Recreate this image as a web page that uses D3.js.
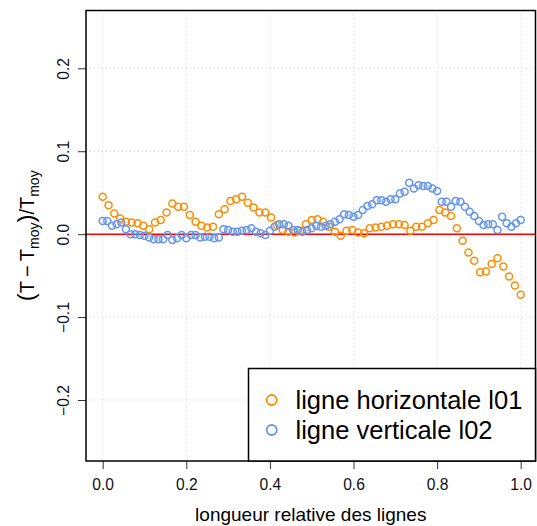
<!DOCTYPE html>
<html>
<head>
<meta charset="utf-8">
<script src="https://cdn.jsdelivr.net/npm/d3@7"></script>
<style>
  html, body { margin: 0; padding: 0; background: #fff; }
  svg { display: block; font-family: "Liberation Sans", Arial, Helvetica, sans-serif; }
</style>
</head>
<body>
<svg id="chart" width="537" height="526"></svg>
<script>
// ---- data ----
const xTicks = [0.0, 0.2, 0.4, 0.6, 0.8, 1.0];
const yTicks = [-0.2, -0.1, 0.0, 0.1, 0.2];

// ligne horizontale l01 : 73 points, x = i/72
const horizVals = [
  0.045, 0.035, 0.025, 0.019, 0.015, 0.014, 0.013, 0.010, 0.006, 0.014,
  0.017, 0.026, 0.037, 0.033, 0.033, 0.023, 0.015, 0.010, 0.008, 0.009,
  0.024, 0.030, 0.040, 0.042, 0.045, 0.038, 0.032, 0.026, 0.026, 0.020,
  0.011, 0.005, 0.003, 0.002, 0.004, 0.012, 0.017, 0.018, 0.015, 0.009,
  0.003, -0.002, 0.004, 0.005, 0.002, 0.001, 0.007, 0.008, 0.009, 0.010,
  0.012, 0.012, 0.011, 0.004, 0.009, 0.009, 0.013, 0.017, 0.029, 0.026,
  0.022, 0.007, -0.008, -0.022, -0.032, -0.046, -0.045, -0.036, -0.029, -0.039,
  -0.051, -0.062, -0.073
];

// ligne verticale l02 : 91 points, x = i/90
const vertVals = [
  0.016, 0.016, 0.010, 0.012, 0.014, 0.006, 0.000, 0.000, -0.001, -0.002,
  -0.004, -0.006, -0.006, -0.006, -0.001, -0.007, -0.005, -0.001, -0.005, -0.001,
  -0.001, -0.004, -0.003, -0.003, -0.005, -0.004, 0.006, 0.005, 0.003, 0.003,
  0.004, 0.005, 0.007, 0.003, 0.001, -0.001, 0.004, 0.009, 0.012, 0.012,
  0.010, 0.005, 0.005, 0.003, 0.005, 0.007, 0.010, 0.009, 0.010, 0.012,
  0.015, 0.018, 0.024, 0.023, 0.021, 0.023, 0.029, 0.034, 0.036, 0.041,
  0.041, 0.039, 0.042, 0.042, 0.049, 0.051, 0.062, 0.055, 0.059, 0.058,
  0.058, 0.055, 0.052, 0.039, 0.039, 0.033, 0.040, 0.039, 0.033, 0.027,
  0.022, 0.016, 0.011, 0.012, 0.012, 0.005, 0.021, 0.013, 0.009, 0.013,
  0.017
];

const seriesNames = ["ligne horizontale l01", "ligne verticale l02"];
const seriesColors = ["#FF8C00", "#6495ED"];

const horizPts = horizVals.map((v, i) => ({ x: i / (horizVals.length - 1), y: v }));
const vertPts  = vertVals.map((v, i) => ({ x: i / (vertVals.length - 1), y: v }));

// ---- layout ----
const box = { left: 86, right: 535.5, top: 10.5, bottom: 461 };
const x = d3.scaleLinear().domain([0, 1]).range([102.7, 520.7]);
const y = d3.scaleLinear().domain([-0.2, 0.2]).range([400, 68.3]);

const svg = d3.select("#chart");

// grid (dotted light gray)
const grid = svg.append("g");
grid.selectAll("line.gx").data(xTicks).join("line")
  .attr("x1", d => x(d)).attr("x2", d => x(d))
  .attr("y1", box.top).attr("y2", box.bottom)
  .attr("stroke", "#d3d3d3").attr("stroke-width", 1).attr("stroke-dasharray", "1,3");
grid.selectAll("line.gy").data(yTicks).join("line")
  .attr("y1", d => y(d)).attr("y2", d => y(d))
  .attr("x1", box.left).attr("x2", box.right)
  .attr("stroke", "#d3d3d3").attr("stroke-width", 1).attr("stroke-dasharray", "1,3");

// zero line
svg.append("line")
  .attr("x1", box.left).attr("x2", box.right)
  .attr("y1", y(0)).attr("y2", y(0))
  .attr("stroke", "#FF0000").attr("stroke-width", 1.5);

// points
function drawPts(pts, color) {
  svg.append("g").selectAll("circle").data(pts).join("circle")
    .attr("cx", d => x(d.x)).attr("cy", d => y(d.y)).attr("r", 3.5)
    .attr("fill", "none").attr("stroke", color).attr("stroke-width", 1.5);
}
drawPts(horizPts, seriesColors[0]);
drawPts(vertPts, seriesColors[1]);

// axes
const xAxis = svg.append("g").attr("transform", `translate(0,${box.bottom})`)
  .call(d3.axisBottom(x).tickValues(xTicks).tickSize(8).tickFormat(d3.format(".1f")));
xAxis.select(".domain").remove();
xAxis.selectAll(".tick line").attr("stroke", "#333").attr("stroke-width", 1);
xAxis.selectAll(".tick text").attr("font-size", 15.6).attr("fill", "#111")
  .attr("font-family", "Liberation Sans, Arial, sans-serif").attr("dy", null).attr("y", 29);

const yAxis = svg.append("g").attr("transform", `translate(${box.left},0)`)
  .call(d3.axisLeft(y).tickValues(yTicks).tickSize(8).tickFormat(d => d3.format(".1f")(d).replace("-", "\u2212")));
yAxis.select(".domain").remove();
yAxis.selectAll(".tick line").attr("stroke", "#333").attr("stroke-width", 1);
yAxis.selectAll(".tick text")
  .attr("font-size", 15.6).attr("fill", "#111")
  .attr("font-family", "Liberation Sans, Arial, sans-serif")
  .attr("x", null).attr("dy", null)
  .attr("text-anchor", "middle")
  .attr("transform", "translate(-17,0) rotate(-90)");

// box
svg.append("rect")
  .attr("x", box.left).attr("y", box.top)
  .attr("width", box.right - box.left).attr("height", box.bottom - box.top)
  .attr("fill", "none").attr("stroke", "#000").attr("stroke-width", 1.5);

// legend
const lg = { left: 248.5, top: 368.5 };
svg.append("rect")
  .attr("x", lg.left).attr("y", lg.top)
  .attr("width", box.right - lg.left).attr("height", box.bottom - lg.top)
  .attr("fill", "#fff").attr("stroke", "#000").attr("stroke-width", 1.5);
const legItems = svg.append("g").selectAll("g").data(seriesNames).join("g")
  .attr("transform", (d, i) => `translate(0,${400 + i * 30})`);
legItems.append("circle").attr("cx", 271.7).attr("cy", 0).attr("r", 5)
  .attr("fill", "none").attr("stroke", (d, i) => seriesColors[i]).attr("stroke-width", 1.8);
legItems.append("text").attr("x", 295.5).attr("y", 9)
  .attr("font-size", 25.5).attr("fill", "#000").text(d => d);

// axis titles
svg.append("text").attr("x", (box.left + box.right) / 2).attr("y", 521)
  .attr("text-anchor", "middle").attr("font-size", 19).attr("fill", "#000")
  .text("longueur relative des lignes");

const yt = svg.append("text")
  .attr("transform", `translate(34,${(box.top + box.bottom) / 2}) rotate(-90)`)
  .attr("text-anchor", "middle").attr("font-size", 20).attr("fill", "#000");
yt.append("tspan").attr("font-size", 24).text("(");
yt.append("tspan").text("T\u2009\u2212\u2009T");
yt.append("tspan").attr("font-size", 14).attr("dy", 5).text("moy");
yt.append("tspan").attr("font-size", 24).attr("dy", -5).text(")");
yt.append("tspan").text("/T");
yt.append("tspan").attr("font-size", 14).attr("dy", 5).text("moy");
</script>
</body>
</html>
